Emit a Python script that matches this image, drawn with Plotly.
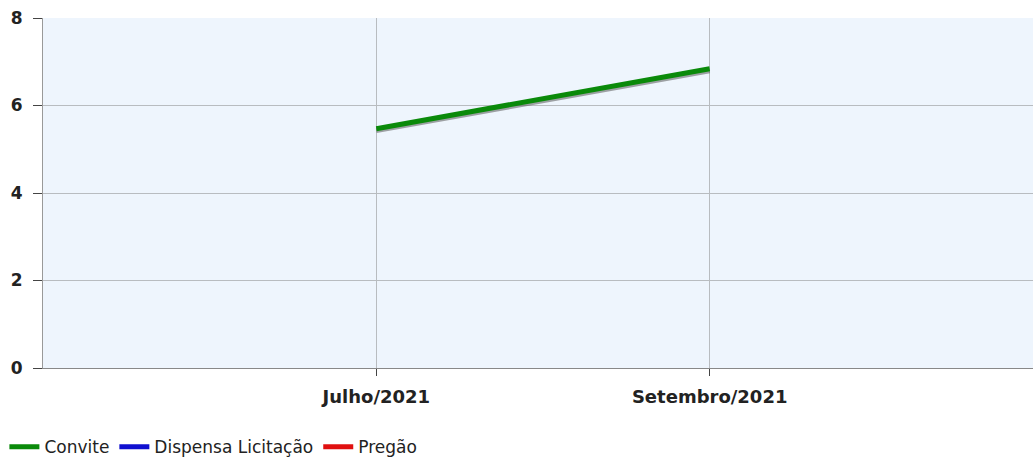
import plotly.graph_objects as go

# chart data
months = ["Julho/2021", "Setembro/2021"]
convite = [5.47, 6.84]
dispensa = [None, None]
pregao = [None, None]

series = [
    ("Convite", convite, "#0a8a0a"),
    ("Dispensa Licitação", dispensa, "#1010d0"),
    ("Pregão", pregao, "#e01010"),
]

fig = go.Figure()

# soft drop shadow under the lines (about 2 px below)
shadow_dy = 0.045
for name, vals, color in series:
    fig.add_trace(go.Scatter(
        x=months,
        y=[v - shadow_dy if v is not None else None for v in vals],
        mode="lines",
        line=dict(color="rgba(90,90,90,0.55)", width=5),
        showlegend=False,
        hoverinfo="skip",
    ))

for name, vals, color in series:
    fig.add_trace(go.Scatter(
        x=months,
        y=vals,
        mode="lines",
        name=name,
        line=dict(color=color, width=5),
    ))

fig.update_layout(
    width=1033,
    height=461,
    margin=dict(l=43, r=0, t=18, b=93, autoexpand=False),
    paper_bgcolor="white",
    plot_bgcolor="#eef5fd",
    font=dict(family="DejaVu Sans", color="#222222"),
    showlegend=True,
    legend=dict(
        orientation="h",
        x=-0.039, xanchor="left",
        yref="container",
        y=0.03, yanchor="middle",
        font=dict(size=17, family="DejaVu Sans", color="#222222"),
        itemwidth=30,
        tracegroupgap=0,
        bgcolor="rgba(0,0,0,0)",
    ),
)

fig.update_xaxes(
    type="category",
    range=[-1, 1.97],
    automargin=False,
    showgrid=True,
    gridcolor="#b8bcc0",
    gridwidth=1,
    ticks="outside",
    ticklen=7,
    tickcolor="#444444",
    showline=True,
    linecolor="#888888",
    ticklabelstandoff=5,
    tickfont=dict(size=18, family="DejaVu Sans", color="#222222", weight="bold"),
    zeroline=False,
    fixedrange=True,
)

fig.update_yaxes(
    range=[0, 8],
    tickvals=[0, 2, 4, 6, 8],
    automargin=False,
    showgrid=True,
    gridcolor="#b8bcc0",
    gridwidth=1,
    ticks="outside",
    ticklen=9,
    tickcolor="#444444",
    showline=True,
    linecolor="#999999",
    ticklabelstandoff=7,
    tickfont=dict(size=17, family="DejaVu Sans", color="#222222", weight="bold"),
    zeroline=False,
    fixedrange=True,
)

# page body has a default 8px margin; drop it so the figure fills the window
fig.write_html(
    "out.html",
    config={"displayModeBar": False},
    post_script="document.body.style.margin='0';",
)
